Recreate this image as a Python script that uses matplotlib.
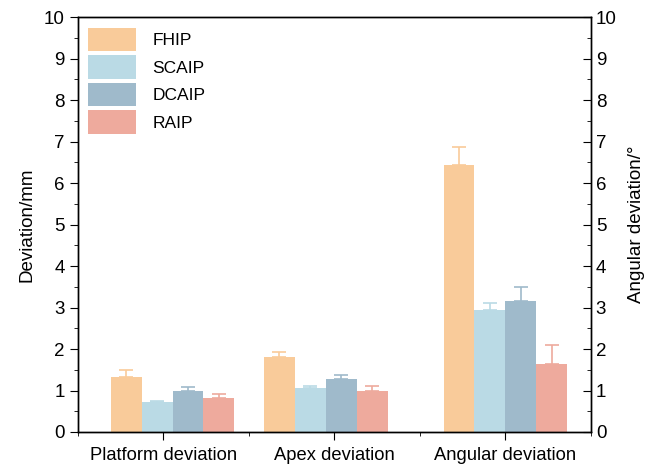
import matplotlib.pyplot as plt
import numpy as np
from matplotlib.ticker import MultipleLocator

plt.rcParams['font.family'] = ['Liberation Sans', 'DejaVu Sans']

categories = ['Platform deviation', 'Apex deviation', 'Angular deviation']
methods = ['FHIP', 'SCAIP', 'DCAIP', 'RAIP']
means = {
    'FHIP':  [1.32, 1.80, 6.43],
    'SCAIP': [0.72, 1.06, 2.95],
    'DCAIP': [0.99, 1.27, 3.16],
    'RAIP':  [0.81, 1.00, 1.65],
}
errs = {
    'FHIP':  [0.17, 0.13, 0.45],
    'SCAIP': [0.03, 0.06, 0.17],
    'DCAIP': [0.09, 0.10, 0.33],
    'RAIP':  [0.10, 0.12, 0.45],
}
colors = ['#F9CB9A', '#BADAE5', '#9FBACB', '#EEAA9D']

# group centres (groups are not exactly on the tick positions)
centres = np.array([0.053, 0.95, 2.0])
width = 0.181

fig = plt.figure(figsize=(6.61, 4.65), dpi=100)
ax = fig.add_axes([0.118, 0.071, 0.776, 0.892])

for i, (m, c) in enumerate(zip(methods, colors)):
    xs = centres + (i - 1.5) * width
    ax.bar(xs, means[m], width, color=c, label=m, zorder=2)
    ax.errorbar(xs, means[m], yerr=[np.zeros(3), errs[m]], fmt='none',
                ecolor=c, elinewidth=1.2, capsize=5, capthick=1.2, zorder=1)

ax.set_xlim(-0.5, 2.5)
ax.set_ylim(0, 10)
ax.set_xticks(range(3))
ax.set_xticklabels(categories, fontsize=13.2)
ax.xaxis.set_minor_locator(MultipleLocator(1, offset=0.5))
ax.yaxis.set_major_locator(MultipleLocator(1))
ax.yaxis.set_minor_locator(MultipleLocator(0.5))
ax.tick_params(axis='y', which='major', direction='out', length=6, labelsize=13.5)
ax.tick_params(axis='y', which='minor', direction='out', length=3)
ax.tick_params(axis='x', which='major', direction='out', length=6, pad=5)
ax.tick_params(axis='x', which='minor', direction='out', length=3)
ax.set_ylabel('Deviation/mm', fontsize=13.5, labelpad=6)

ax2 = ax.twinx()
ax2.set_ylim(0, 10)
ax2.yaxis.set_major_locator(MultipleLocator(1))
ax2.yaxis.set_minor_locator(MultipleLocator(0.5))
ax2.tick_params(axis='y', which='major', direction='in', length=6, labelsize=13.5)
ax2.tick_params(axis='y', which='minor', direction='in', length=3)
ax2.set_ylabel('Angular deviation/°', fontsize=13.5, labelpad=8)

for a in (ax, ax2):
    for s in a.spines.values():
        s.set_linewidth(1.0)

ax.legend(loc='upper left', frameon=False, fontsize=12.5,
          handlelength=2.75, handleheight=1.7, labelspacing=0.24,
          handletextpad=0.95, borderaxespad=0.2, bbox_to_anchor=(0.0, 1.0))

fig.savefig('out.png', dpi=100)
